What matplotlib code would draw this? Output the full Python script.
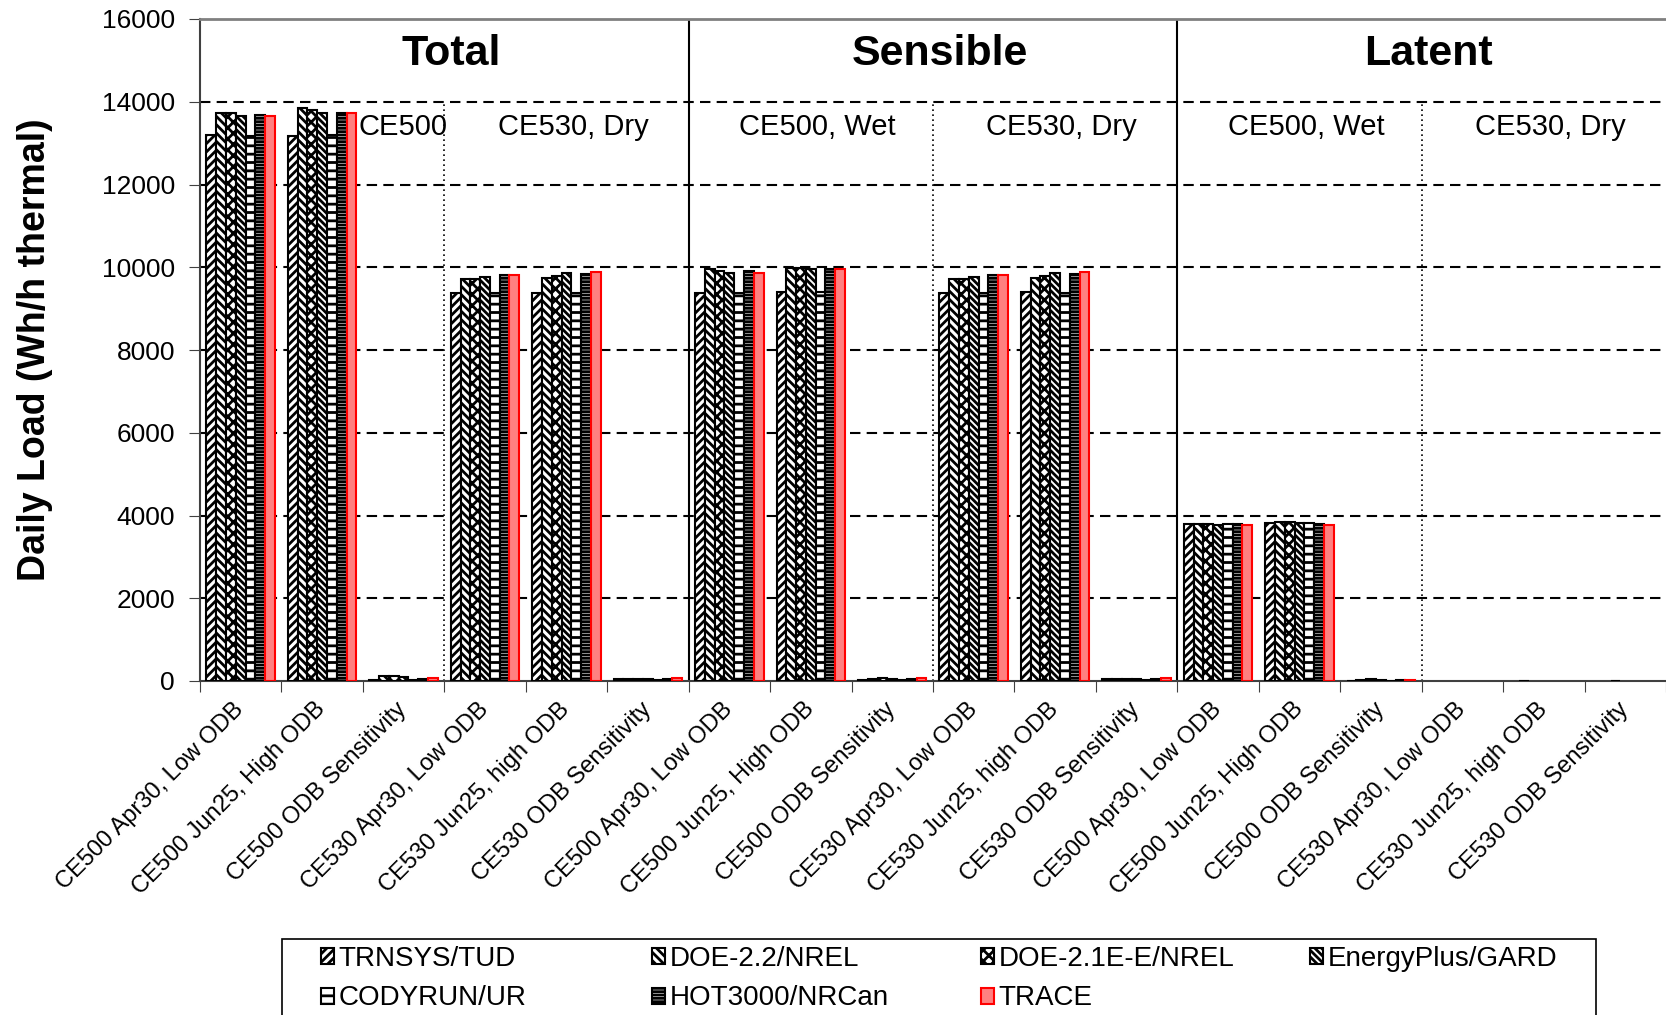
import numpy as np
import matplotlib
matplotlib.use('Agg')
import matplotlib.pyplot as plt
from matplotlib.patches import Rectangle

plt.rcParams['font.family'] = ['Liberation Sans', 'DejaVu Sans']
plt.rcParams['hatch.linewidth'] = 2.0

categories = ['CE500 Apr30, Low ODB', 'CE500 Jun25, High ODB', 'CE500 ODB Sensitivity',
              'CE530 Apr30, Low ODB', 'CE530 Jun25, high ODB', 'CE530 ODB Sensitivity',
              'CE500 Apr30, Low ODB', 'CE500 Jun25, High ODB', 'CE500 ODB Sensitivity',
              'CE530 Apr30, Low ODB', 'CE530 Jun25, high ODB', 'CE530 ODB Sensitivity',
              'CE500 Apr30, Low ODB', 'CE500 Jun25, High ODB', 'CE500 ODB Sensitivity',
              'CE530 Apr30, Low ODB', 'CE530 Jun25, high ODB', 'CE530 ODB Sensitivity']

series_names = ['TRNSYS/TUD', 'DOE-2.2/NREL', 'DOE-2.1E-E/NREL', 'EnergyPlus/GARD',
                'CODYRUN/UR', 'HOT3000/NRCan', 'TRACE']

trnsys = [13200, 13180, 30, 9370, 9380, 40, 9370, 9390, 30, 9370, 9390, 40, 3800, 3810, 10, 0, 0, 0]
doe22 = [13740, 13840, 110, 9710, 9730, 50, 9950, 9990, 60, 9710, 9730, 50, 3800, 3850, 30, 0, 10, 0]
doe21e = [13720, 13810, 110, 9710, 9800, 60, 9900, 9980, 70, 9710, 9800, 60, 3800, 3840, 40, 0, 0, 10]
eplus = [13650, 13740, 90, 9770, 9850, 60, 9870, 9960, 60, 9770, 9850, 60, 3780, 3810, 20, 0, 0, 0]
codyrun = [13170, 13200, 20, 9370, 9380, 30, 9370, 9390, 30, 9370, 9380, 30, 3800, 3810, 10, 0, 0, 0]
hot3000 = [13690, 13720, 60, 9810, 9840, 50, 9900, 9960, 50, 9810, 9840, 50, 3790, 3800, 15, 0, 0, 0]
trace = [13660, 13740, 80, 9810, 9890, 70, 9870, 9950, 80, 9810, 9890, 70, 3770, 3770, 15, 0, 0, 0]

sections = ['Total', 'Sensible', 'Latent']
subsections = ['CE500, Wet', 'CE530, Dry']

all_series = [trnsys, doe22, doe21e, eplus, codyrun, hot3000, trace]
hatches = ['////', '\\\\\\\\', 'xxx', '\\\\\\\\\\', '--', '-----', None]
faces = ['white'] * 6 + ['#ff8080']
edges = ['black'] * 6 + ['red']

fig = plt.figure(figsize=(16.66, 10.15), dpi=100)
ax = fig.add_axes([0.12, 1 - 681 / 1015, 0.88, (681 - 19) / 1015])

x = np.arange(len(categories)) + 0.5
width = 0.12
bars = []
for i, vals in enumerate(all_series):
    v = np.array(vals, dtype=float)
    v[v == 0] = np.nan  # zero-height bars are not drawn
    b = ax.bar(x + (i - 3) * width, v, width, facecolor=faces[i], edgecolor=edges[i],
               hatch=hatches[i], linewidth=1.5, label=series_names[i], zorder=3)
    bars.append(b)

ax.set_xlim(0, 18)
ax.set_ylim(0, 16000)
ax.set_yticks(np.arange(0, 16001, 2000))
ax.tick_params(axis='y', labelsize=19, length=8, pad=10, direction='out', color='#404040')
ax.set_xticks(np.arange(0, 19))
ax.set_xticklabels([])
ax.tick_params(axis='x', which='major', length=8, color='#404040')
ax.set_xticks(x, minor=True)
ax.set_xticklabels(categories, minor=True, rotation=45, ha='right', va='center',
                   rotation_mode='anchor', fontsize=17)
ax.tick_params(axis='x', which='minor', length=0, pad=18)

for y in range(2000, 16000, 2000):
    ax.axhline(y, color='black', linestyle=(0, (5, 3)), linewidth=1.5, zorder=1)

for xs in [6, 12]:
    ax.axvline(xs, color='black', linewidth=1.5, zorder=2)
for xs in [3, 9, 15]:
    ax.axvline(xs, ymax=14000 / 16000, color='black', linestyle=(0, (1, 2)), linewidth=1.2, zorder=2)

ax.spines['top'].set_color('gray')
ax.spines['top'].set_linewidth(2)
ax.spines['left'].set_color('#404040')
ax.spines['left'].set_linewidth(1.5)
ax.spines['bottom'].set_color('#404040')
ax.spines['bottom'].set_linewidth(1.5)
ax.spines['right'].set_visible(False)

for k, name in enumerate(sections):
    ax.text(6 * k + 3.08, 15150, name, ha='center', va='center', fontsize=31, fontweight='bold')
    for j, sub in enumerate(subsections):
        if k == 0 and j == 0:
            ax.text(1.95, 13380, 'CE500', ha='left', va='center', fontsize=21)
        else:
            ax.text(6 * k + 3 * j + 1.58, 13380, sub, ha='center', va='center', fontsize=21)

ax.set_ylabel('Daily Load (Wh/h thermal)', fontsize=27, fontweight='bold', labelpad=35)

# legend: frame drawn separately, one legend per column so columns are evenly spaced
fig.patches.append(Rectangle((282 / 1666, -0.05), (1596 - 282) / 1666, 0.05 + 1 - 939 / 1015,
                             transform=fig.transFigure, facecolor='white', edgecolor='black',
                             linewidth=1.2, zorder=0))
col_x = [315, 646, 975, 1304]
for c in range(4):
    idx = [c, c + 4] if c + 4 < len(series_names) else [c]
    fig.legend([bars[i] for i in idx], [series_names[i] for i in idx], loc='upper left',
               bbox_to_anchor=(col_x[c] / 1666, 1 - 940 / 1015), ncol=1, fontsize=20,
               frameon=False, handlelength=0.5, handleheight=0.5, handletextpad=0.15,
               labelspacing=0.5, borderaxespad=0, borderpad=0.2)

fig.savefig('out.png', dpi=100)
